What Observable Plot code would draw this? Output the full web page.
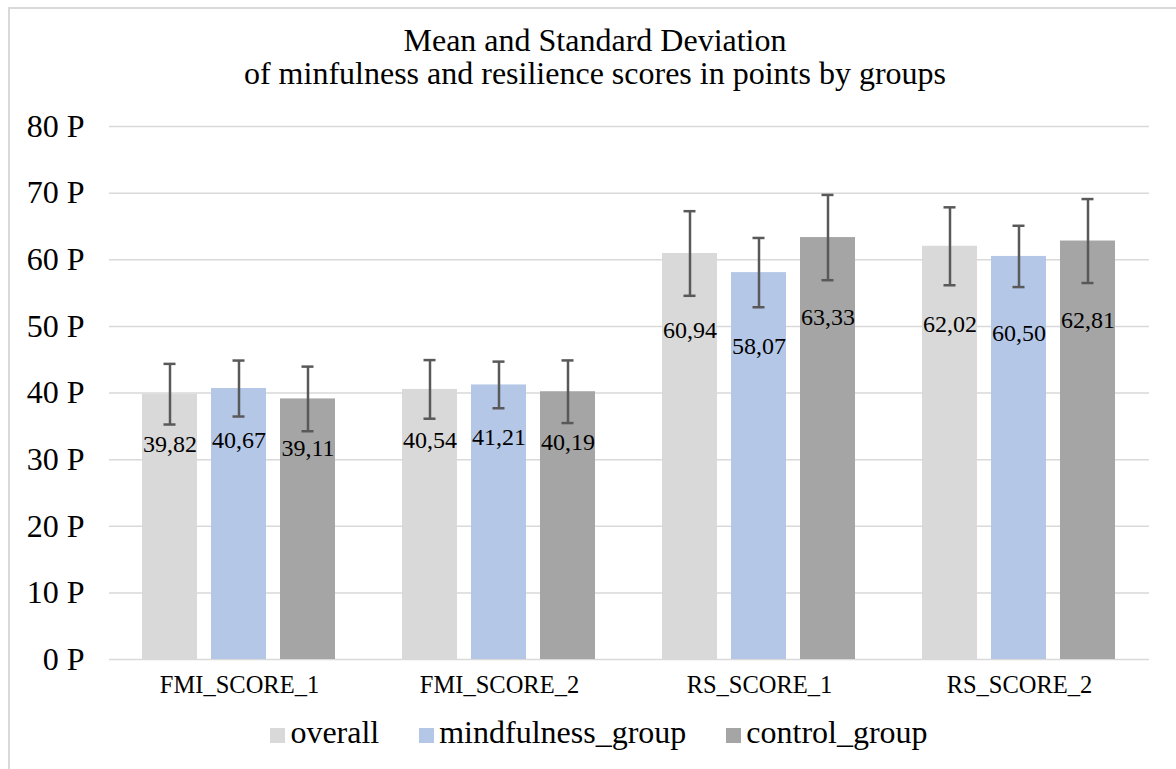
<!DOCTYPE html>
<html>
<head>
<meta charset="utf-8">
<script src="https://cdn.jsdelivr.net/npm/d3@7"></script>
<script src="https://cdn.jsdelivr.net/npm/@observablehq/plot@0.6"></script>
<style>
  body { margin: 0; background: #fff; font-family: "Liberation Serif", "Times New Roman", serif; overflow: hidden; }
  #frame { position: absolute; left: 8px; top: 7px; width: 1300px; height: 900px; border-left: 2px solid #d9d9d9; border-top: 2px solid #d9d9d9; }
  #title { position: absolute; left: 0; width: 1190px; top: 24px; text-align: center; font-size: 32px; line-height: 33px; color: #000; }
  #chart { position: absolute; left: 0; top: 0; }
  #legend { position: absolute; left: 0; width: 1198px; top: 713px; display: flex; justify-content: center; gap: 40px; font-size: 32px; line-height: 38px; color: #000; }
  .item { display: flex; align-items: baseline; }
  .sw { display: inline-block; width: 15px; height: 15px; margin-right: 5px; }
</style>
</head>
<body>
<div id="frame"></div>
<div id="title">Mean and Standard Deviation<br>of minfulness and resilience scores in points by groups</div>
<div id="chart"></div>
<div id="legend"></div>
<script>
const categories = ["FMI_SCORE_1", "FMI_SCORE_2", "RS_SCORE_1", "RS_SCORE_2"];
const groups = ["overall", "mindfulness_group", "control_group"];
const groupColors = ["#d9d9d9", "#b4c7e7", "#a5a5a5"];
const overallMean = [39.82, 40.54, 60.94, 62.02];
const mindfulnessMean = [40.67, 41.21, 58.07, 60.50];
const controlMean = [39.11, 40.19, 63.33, 62.81];
const overallSD = [4.55, 4.4, 6.35, 5.85];
const mindfulnessSD = [4.2, 3.5, 5.2, 4.6];
const controlSD = [4.85, 4.7, 6.4, 6.3];
const yTicks = [0, 10, 20, 30, 40, 50, 60, 70, 80];

const means = [overallMean, mindfulnessMean, controlMean];
const sds = [overallSD, mindfulnessSD, controlSD];
const data = categories.flatMap((c, i) => groups.map((g, j) => ({
  category: c, group: g, mean: means[j][i], sd: sds[j][i]
})));

const fmt = d => d.mean.toFixed(2).replace(".", ",");

const chart = Plot.plot({
  width: 1176,
  height: 709,
  marginTop: 126,
  marginBottom: 50,
  marginLeft: 108,
  marginRight: 26,
  style: { fontFamily: "Liberation Serif, Times New Roman, serif", fontSize: "22px", color: "#000", background: "transparent" },
  fx: { domain: categories, padding: 0, label: null },
  x: { domain: groups, paddingInner: 0.2, paddingOuter: 0.46, axis: null },
  y: { domain: [0, 80], label: null },
  color: { domain: groups, range: groupColors },
  marks: [
    Plot.gridY(yTicks, { stroke: "#d9d9d9", strokeOpacity: 1, strokeWidth: 1.5 }),
    Plot.axisY(yTicks, { tickSize: 0, tickPadding: 25, tickFormat: d => `${d} P`, fontSize: 32, label: null }),
    Plot.axisFx({ anchor: "bottom", tickSize: 0, tickPadding: 16, fontSize: 24.5, label: null }),
    Plot.barY(data, { fx: "category", x: "group", y: "mean", fill: "group" }),
    Plot.ruleX(data, { fx: "category", x: "group", y1: d => d.mean - d.sd, y2: d => d.mean + d.sd, stroke: "#595959", strokeWidth: 2.5 }),
    Plot.tickY(data, { fx: "category", x: "group", y: d => d.mean + d.sd, stroke: "#595959", strokeWidth: 2.5, insetLeft: 21.5, insetRight: 21.5 }),
    Plot.tickY(data, { fx: "category", x: "group", y: d => d.mean - d.sd, stroke: "#595959", strokeWidth: 2.5, insetLeft: 21.5, insetRight: 21.5 }),
    Plot.text(data, { fx: "category", x: "group", y: d => d.mean * 0.81, text: fmt, fontSize: 24, fill: "#000" })
  ]
});
document.getElementById("chart").appendChild(chart);

const legend = document.getElementById("legend");
groups.forEach((g, i) => {
  const item = document.createElement("div");
  item.className = "item";
  const sw = document.createElement("span");
  sw.className = "sw";
  sw.style.background = groupColors[i];
  item.appendChild(sw);
  item.appendChild(document.createTextNode(g));
  legend.appendChild(item);
});
</script>
</body>
</html>
